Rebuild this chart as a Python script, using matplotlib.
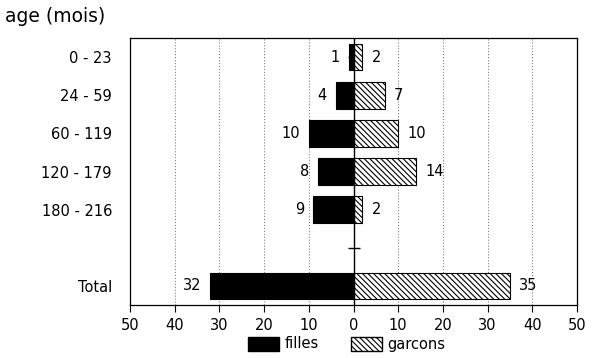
import numpy as np
import matplotlib
matplotlib.use("Agg")
import matplotlib.pyplot as plt
from matplotlib.patches import Patch

plt.rcParams['hatch.linewidth'] = 0.8

categories = ["0 - 23", "24 - 59", "60 - 119", "120 - 179", "180 - 216", "", "Total"]
filles = [1, 4, 10, 8, 9, None, 32]
garcons = [2, 7, 10, 14, 2, None, 35]

fig = plt.figure(figsize=(6, 3.58), dpi=100)
ax = fig.add_axes([130 / 600, 1 - 305 / 358, 447 / 600, 267 / 358])

HATCH = "\\\\\\\\\\\\"

ypos = np.arange(len(categories))
for y, f, g in zip(ypos, filles, garcons):
    if f is None:
        continue
    ax.barh(y, -f, height=0.7, color="black", edgecolor="black", linewidth=0.8, zorder=3)
    ax.barh(y, g, height=0.7, color="white", edgecolor="black", hatch=HATCH,
            linewidth=0.8, zorder=3)
    ax.text(-f - 2, y, str(f), ha="right", va="center", fontsize=10.5)
    ax.text(g + 2, y, str(g), ha="left", va="center", fontsize=10.5)

# zero line with small ticks at each row
ax.axvline(0, color="black", linewidth=1.0, zorder=4)
ax.plot([0] * len(ypos), ypos, marker="_", markersize=9, color="black",
        linestyle="none", zorder=2)

ax.set_xlim(-50, 50)
ax.set_ylim(len(categories) - 0.5, -0.5)
ax.set_xticks(np.arange(-50, 51, 10))
ax.set_xticklabels([str(abs(v)) for v in range(-50, 51, 10)], fontsize=10.5)
ax.set_yticks(ypos)
ax.set_yticklabels(categories, fontsize=10.5)
ax.tick_params(axis="y", length=0, pad=13)
ax.tick_params(axis="x", direction="out", length=5, pad=4)
ax.grid(axis="x", linestyle=":", color="gray", linewidth=0.8, zorder=0)
for s in ax.spines.values():
    s.set_linewidth(0.9)

fig.text(5 / 600, 1 - 16 / 358, "age (mois)", fontsize=13.5, ha="left", va="center")

handles = [Patch(facecolor="black", edgecolor="black", label="filles"),
           Patch(facecolor="white", edgecolor="black", hatch=HATCH, label="garcons")]
fig.legend(handles=handles, loc="center", bbox_to_anchor=(347 / 600, 1 - 344 / 358),
           ncol=2, frameon=False, fontsize=10.5, handlelength=2.1, handleheight=1.1,
           columnspacing=2.2, handletextpad=0.4, borderpad=0.1)

fig.savefig("out.png", dpi=100)
